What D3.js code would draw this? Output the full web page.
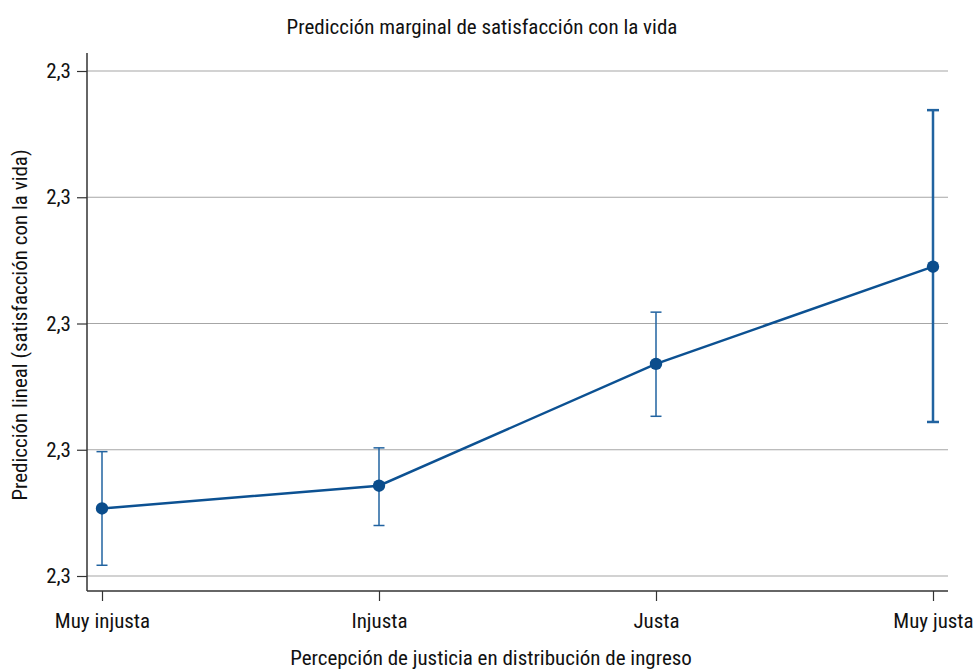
<!DOCTYPE html>
<html><head><meta charset="utf-8">
<script src="https://cdn.jsdelivr.net/npm/d3@7"></script>
<style>
html,body{margin:0;padding:0;background:#fff;}
svg text{font-family:"Liberation Sans Narrow","Arial Narrow","Roboto Condensed","Liberation Sans",sans-serif;fill:#111;}
</style></head>
<body><svg id="c" width="976" height="671"></svg>
<script>
const categories = ["Muy injusta","Injusta","Justa","Muy justa"];
const estimates = [2.2707, 2.2743, 2.2936, 2.3090];
const ciLow = [2.2617, 2.2680, 2.2853, 2.2844];
const ciHigh = [2.2797, 2.2803, 2.3018, 2.3338];
const ciWidth = [1.5, 1.5, 1.5, 2.5];
const yTicks = [2.26, 2.28, 2.30, 2.32, 2.34];
const title = "Predicción marginal de satisfacción con la vida";
const xTitle = "Percepción de justicia en distribución de ingreso";
const yTitle = "Predicción lineal (satisfacción con la vida)";

const svg = d3.select("#c");
const L = 87, R = 948, T = 53, B = 591;
const FS = "21px";
const x = d3.scaleLinear().domain([0, categories.length - 1]).range([102, 933]);
const y = d3.scaleLinear().domain([2.26, 2.34]).range([576, 71]);
const fmt = v => d3.format(".1f")(v).replace(".", ",");
const lineColor = "#0c5192", barColor = "#2163a0";

svg.append("g").selectAll("line").data(yTicks).join("line")
  .attr("x1", L).attr("x2", R).attr("y1", d => y(d)).attr("y2", d => y(d))
  .attr("stroke", "#a6a6a6").attr("stroke-width", 1.2);

const yAxis = svg.append("g").attr("transform", `translate(${L},0)`)
  .call(d3.axisLeft(y).tickValues(yTicks).tickFormat(fmt).tickSize(10).tickPadding(6));
yAxis.select(".domain").remove();
yAxis.selectAll(".tick line").attr("stroke", "#333").attr("stroke-width", 1.2);
yAxis.selectAll(".tick text").style("font-size", FS);
svg.append("line").attr("x1", L).attr("x2", L).attr("y1", T).attr("y2", B)
  .attr("stroke", "#333").attr("stroke-width", 1.5);

const xAxis = svg.append("g").attr("transform", `translate(0,${B})`)
  .call(d3.axisBottom(x).tickValues(d3.range(categories.length)).tickFormat(i => categories[i]).tickSize(10).tickPadding(12));
xAxis.select(".domain").remove();
xAxis.selectAll(".tick line").attr("stroke", "#333").attr("stroke-width", 1.2);
xAxis.selectAll(".tick text").style("font-size", FS);
svg.append("line").attr("x1", L).attr("x2", R).attr("y1", B).attr("y2", B)
  .attr("stroke", "#333").attr("stroke-width", 1.5);

const idx = d3.range(categories.length);
const eb = svg.append("g");
eb.selectAll("line.v").data(idx).join("line").attr("class","v")
  .attr("x1", i => x(i)).attr("x2", i => x(i))
  .attr("y1", i => y(ciLow[i])).attr("y2", i => y(ciHigh[i]))
  .attr("stroke", barColor).attr("stroke-width", i => ciWidth[i]);
[ciLow, ciHigh].forEach(arr => {
  eb.append("g").selectAll("line").data(idx).join("line")
    .attr("x1", i => x(i) - (ciWidth[i] > 2 ? 6 : 5.5)).attr("x2", i => x(i) + (ciWidth[i] > 2 ? 6 : 5.5))
    .attr("y1", i => y(arr[i])).attr("y2", i => y(arr[i]))
    .attr("stroke", barColor).attr("stroke-width", i => ciWidth[i]);
});

svg.append("path").datum(idx)
  .attr("d", d3.line().x(i => x(i)).y(i => y(estimates[i])))
  .attr("fill", "none").attr("stroke", lineColor).attr("stroke-width", 2.5);
svg.append("g").selectAll("circle").data(idx).join("circle")
  .attr("cx", i => x(i)).attr("cy", i => y(estimates[i])).attr("r", 6.2)
  .attr("fill", "#0b4d8c");

svg.append("text").attr("x", 482).attr("y", 34).attr("text-anchor", "middle")
  .style("font-size", FS).text(title);
svg.append("text").attr("x", 491).attr("y", 665).attr("text-anchor", "middle")
  .style("font-size", FS).text(xTitle);
svg.append("text").attr("transform", "translate(27,325) rotate(-90)").attr("text-anchor", "middle")
  .style("font-size", FS).text(yTitle);
</script></body></html>
